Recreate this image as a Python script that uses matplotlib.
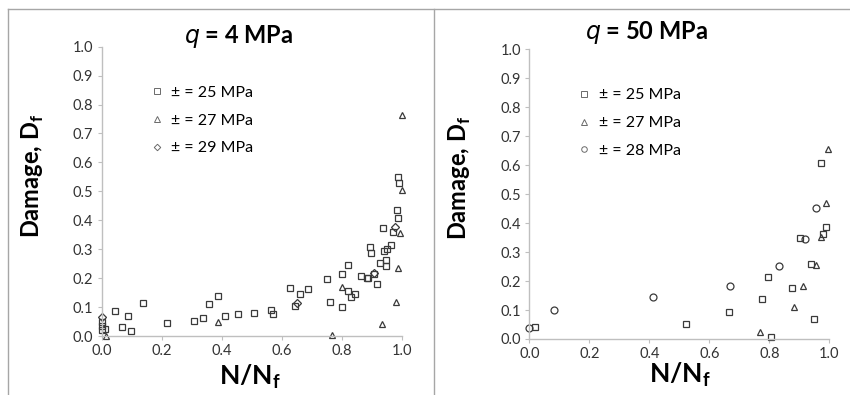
import numpy as np
import matplotlib.pyplot as plt
from matplotlib.lines import Line2D

plt.rcParams['font.family'] = ['Lato', 'DejaVu Sans']

# q = 4 MPa
l_sq_x = [0.0, 0.0, 0.0, 0.01, 0.044, 0.069, 0.087, 0.097, 0.139, 0.217, 0.306, 0.337, 0.357, 0.387,
          0.411, 0.453, 0.509, 0.564, 0.57, 0.629, 0.643, 0.66, 0.689, 0.751, 0.761, 0.8, 0.8,
          0.822, 0.822, 0.83, 0.844, 0.864, 0.883, 0.889, 0.894, 0.898, 0.908, 0.917, 0.926,
          0.939, 0.941, 0.947, 0.948, 0.952, 0.964, 0.972, 0.983, 0.986, 0.989, 0.991]
l_sq_y = [0.05, 0.035, 0.02, 0.025, 0.088, 0.032, 0.069, 0.018, 0.115, 0.046, 0.052, 0.062, 0.109, 0.139,
          0.069, 0.076, 0.081, 0.09, 0.076, 0.166, 0.104, 0.145, 0.162, 0.198, 0.119, 0.213, 0.101,
          0.245, 0.157, 0.134, 0.145, 0.207, 0.199, 0.199, 0.306, 0.286, 0.214, 0.18, 0.251,
          0.372, 0.295, 0.242, 0.263, 0.3, 0.313, 0.36, 0.435, 0.407, 0.551, 0.528]
l_tr_x = [0.014, 0.387, 0.769, 0.8, 0.933, 0.98, 0.989, 0.994, 1.0, 1.0]
l_tr_y = [0.0, 0.05, 0.003, 0.168, 0.041, 0.119, 0.234, 0.355, 0.505, 0.764]
l_di_x = [0.0, 0.65, 0.908, 0.976]
l_di_y = [0.067, 0.113, 0.217, 0.378]

# q = 50 MPa
r_sq_x = [0.019, 0.521, 0.667, 0.777, 0.794, 0.806, 0.877, 0.902, 0.938, 0.95, 0.972, 0.98, 0.989]
r_sq_y = [0.04, 0.052, 0.094, 0.138, 0.215, 0.006, 0.175, 0.35, 0.258, 0.068, 0.609, 0.361, 0.388]
r_tr_x = [0.769, 0.882, 0.911, 0.954, 0.972, 0.989, 0.997]
r_tr_y = [0.023, 0.112, 0.184, 0.255, 0.351, 0.468, 0.656]
r_ci_x = [0.0, 0.083, 0.413, 0.669, 0.833, 0.919, 0.956]
r_ci_y = [0.039, 0.1, 0.144, 0.184, 0.253, 0.345, 0.451]

ticks = np.arange(0, 1.01, 0.1)
xticks = np.arange(0, 1.01, 0.2)
ec = '#3a3a3a'
gray = '#bfbfbf'

fig = plt.figure(figsize=(8.5, 3.95), dpi=100)
W, H = 850, 395


def make_ax(x0, x1, y0, y1):
    ax = fig.add_axes([x0 / W, 1 - y0 / H, (x1 - x0) / W, (y0 - y1) / H])
    ax.set_xlim(0, 1)
    ax.set_ylim(0, 1)
    ax.set_xticks(xticks)
    ax.set_yticks(ticks)
    ax.set_xticklabels(['%.1f' % t for t in xticks])
    ax.set_yticklabels(['%.1f' % t for t in ticks])
    for s in ['top', 'right']:
        ax.spines[s].set_visible(False)
    for s in ['left', 'bottom']:
        ax.spines[s].set_color(gray)
        ax.spines[s].set_linewidth(1)
    ax.tick_params(labelsize=10.5, colors='#333333', length=3, color=gray, pad=3)
    ax.patch.set_alpha(0)
    return ax


def pts(ax, x, y, m, ms=5):
    ax.plot(x, y, linestyle='none', marker=m, ms=ms, mfc='none', mec=ec, mew=0.9, clip_on=False)


def legend(ax, labels, last):
    handles = [Line2D([], [], linestyle='none', marker=m, ms=ms, mfc='none', mec='#6a6a6a', mew=0.7)
               for m, ms in zip(['s', '^', last], [4, 4, 3.3 if last == 'D' else 4])]
    ax.legend(handles, labels, loc='upper left', bbox_to_anchor=(0.12, 0.915), frameon=False,
              fontsize=11.5, handlelength=0.6, handletextpad=0.6, labelspacing=0.85)


axl = make_ax(101.7, 401.7, 336, 46.7)
pts(axl, l_sq_x, l_sq_y, 's')
pts(axl, l_tr_x, l_tr_y, '^')
pts(axl, l_di_x, l_di_y, 'D', 3.8)
legend(axl, ['± = 25 MPa', '± = 27 MPa', '± = 29 MPa'], 'D')

axr = make_ax(529.3, 829.3, 339, 49.3)
pts(axr, r_sq_x, r_sq_y, 's')
pts(axr, r_tr_x, r_tr_y, '^')
pts(axr, r_ci_x, r_ci_y, 'o')
legend(axr, ['± = 25 MPa', '± = 27 MPa', '± = 28 MPa'], 'o')

# titles and axis labels
fig.text(239 / W, 1 - 36 / H, r'$\bf\it{q}$ = 4 MPa', ha='center', va='center', fontsize=17, fontweight='bold')
fig.text(647 / W, 1 - 33 / H, r'$\bf\it{q}$ = 50 MPa', ha='center', va='center', fontsize=17, fontweight='bold')
for xc, yc in [(33, 176), (460, 178)]:
    fig.text(xc / W, 1 - yc / H, r'Damage, D$_\mathregular{f}$', rotation=90, ha='center', va='center',
             fontsize=17, fontweight='bold')
for xc, yc in [(250, 377), (680, 375)]:
    fig.text(xc / W, 1 - yc / H, r'N/N$_\mathregular{f}$', ha='center', va='center',
             fontsize=19, fontweight='bold')

# panel frame lines
frame = '#a6a6a6'
fig.add_artist(Line2D([8 / W, 1], [1 - 9 / H, 1 - 9 / H], color=frame, lw=1))
fig.add_artist(Line2D([8 / W, 8 / W], [0, 1 - 9 / H], color=frame, lw=1))
fig.add_artist(Line2D([434 / W, 434 / W], [0, 1 - 9 / H], color=frame, lw=1))

plt.savefig('out.png', dpi=100)
